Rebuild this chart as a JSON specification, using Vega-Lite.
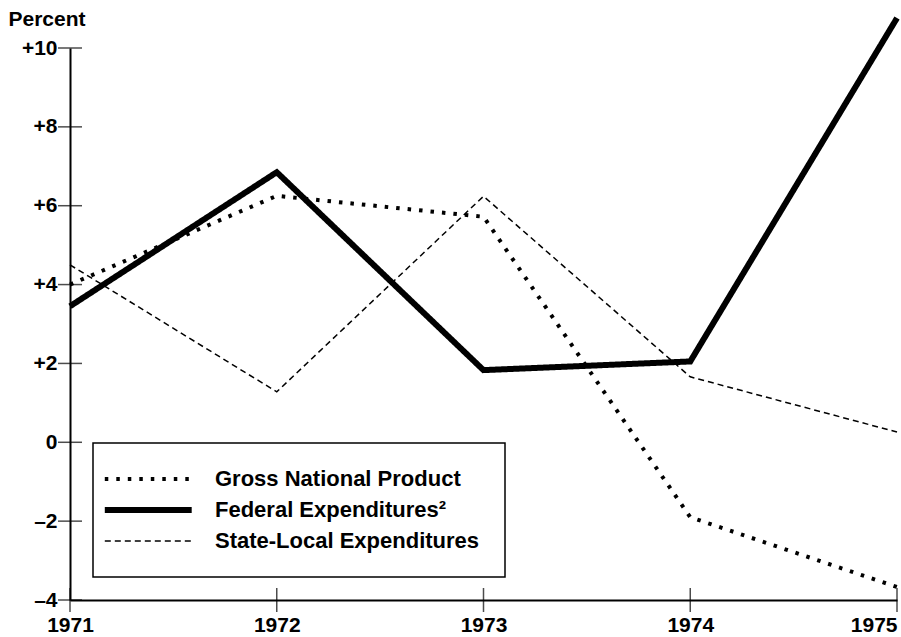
{
  "$schema": "https://vega.github.io/schema/vega-lite/v6.json",
  "width": 827,
  "height": 552,
  "autosize": {"type": "none"},
  "padding": {"left": 70, "top": 48, "right": 4, "bottom": 37},
  "background": "white",
  "config": {
    "view": {"stroke": null},
    "font": "Liberation Sans",
    "axis": {"grid": false, "domainColor": "black", "domainWidth": 2, "labelColor": "black", "labelFont": "Liberation Sans", "labelFontWeight": "bold", "labelFontSize": 21, "ticks": false},
    "legend": {
      "title": null, "orient": "none", "legendX": 23, "legendY": 395,
      "symbolType": "M-4.4,0H11.4", "symbolSize": 121, "symbolStrokeColor": "black",
      "labelFont": "Liberation Sans", "labelFontSize": 22, "labelFontWeight": "bold", "labelColor": "black",
      "labelOffset": 75, "rowPadding": 8, "padding": 25, "strokeColor": "black", "fillColor": "white",
      "labelLimit": 400
    }
  },
  "datasets": {
    "series": [
      {"year": 1971, "series": "Gross National Product", "pct": 4.0},
      {"year": 1972, "series": "Gross National Product", "pct": 6.25},
      {"year": 1973, "series": "Gross National Product", "pct": 5.72},
      {"year": 1974, "series": "Gross National Product", "pct": -1.9},
      {"year": 1975, "series": "Gross National Product", "pct": -3.67},
      {"year": 1971, "series": "Federal Expenditures²", "pct": 3.45},
      {"year": 1972, "series": "Federal Expenditures²", "pct": 6.85},
      {"year": 1973, "series": "Federal Expenditures²", "pct": 1.83},
      {"year": 1974, "series": "Federal Expenditures²", "pct": 2.05},
      {"year": 1975, "series": "Federal Expenditures²", "pct": 10.76},
      {"year": 1971, "series": "State-Local Expenditures", "pct": 4.5},
      {"year": 1972, "series": "State-Local Expenditures", "pct": 1.28},
      {"year": 1973, "series": "State-Local Expenditures", "pct": 6.24},
      {"year": 1974, "series": "State-Local Expenditures", "pct": 1.66},
      {"year": 1975, "series": "State-Local Expenditures", "pct": 0.26}
    ],
    "yticks": [
      {"year": 1971, "pct": -4}, {"year": 1971, "pct": -2}, {"year": 1971, "pct": 0},
      {"year": 1971, "pct": 2}, {"year": 1971, "pct": 4}, {"year": 1971, "pct": 6},
      {"year": 1971, "pct": 8}, {"year": 1971, "pct": 10}
    ],
    "xticks": [
      {"year": 1971, "pct": -4}, {"year": 1972, "pct": -4}, {"year": 1973, "pct": -4},
      {"year": 1974, "pct": -4}, {"year": 1975, "pct": -4}
    ]
  },
  "layer": [
    {
      "data": {"name": "series"},
      "mark": {"type": "line", "color": "black", "clip": false, "strokeJoin": "miter"},
      "encoding": {
        "x": {
          "field": "year", "type": "quantitative",
          "scale": {"domain": [1971, 1975], "nice": false, "zero": false},
          "axis": {
            "title": null, "values": [1971, 1972, 1973, 1974, 1975], "format": "d",
            "labelPadding": 25, "labelBaseline": "middle",
            "labelAlign": {"condition": {"test": "datum.value == 1975", "value": "right"}, "value": "center"},
            "labelDx": {"condition": {"test": "datum.value == 1975", "value": 2}, "value": 0}
          }
        },
        "y": {
          "field": "pct", "type": "quantitative",
          "scale": {"domain": [-4, 10], "nice": false, "zero": false},
          "axis": {
            "values": [-4, -2, 0, 2, 4, 6, 8, 10],
            "labelExpr": "datum.value > 0 ? '+' + datum.value : (datum.value < 0 ? '–' + abs(datum.value) : '0')",
            "labelPadding": 13,
            "title": "Percent",
            "titleAngle": 0, "titleAlign": "left", "titleBaseline": "alphabetic",
            "titleX": -62, "titleY": -23,
            "titleFont": "Liberation Sans", "titleFontSize": 21, "titleFontWeight": "bold", "titleColor": "black"
          }
        },
        "detail": {"field": "series"},
        "strokeDash": {
          "field": "series", "type": "nominal",
          "scale": {
            "domain": ["Gross National Product", "Federal Expenditures²", "State-Local Expenditures"],
            "range": [[3.5, 8], [1, 0], [6, 4]]
          },
          "legend": {"encode": {"legend": {"update": {"strokeWidth": {"value": 1.5}}}}}
        },
        "strokeWidth": {
          "field": "series", "type": "nominal",
          "scale": {
            "type": "ordinal",
            "domain": ["Gross National Product", "Federal Expenditures²", "State-Local Expenditures"],
            "range": [4, 6, 1.5]
          },
          "legend": {"encode": {"legend": {"update": {"strokeWidth": {"value": 1.5}}}}}
        }
      }
    },
    {
      "data": {"name": "yticks"},
      "mark": {"type": "tick", "orient": "horizontal", "color": "black", "size": 24, "thickness": 1.5},
      "encoding": {
        "x": {"field": "year", "type": "quantitative"},
        "y": {"field": "pct", "type": "quantitative"}
      }
    },
    {
      "data": {"name": "xticks"},
      "mark": {"type": "tick", "orient": "vertical", "color": "black", "size": 24, "thickness": 1.5, "clip": false},
      "encoding": {
        "x": {"field": "year", "type": "quantitative"},
        "y": {"field": "pct", "type": "quantitative"}
      }
    }
  ]
}
